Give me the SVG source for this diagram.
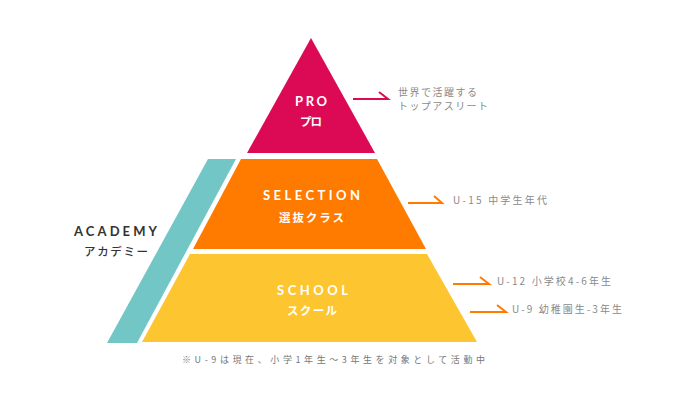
<svg xmlns="http://www.w3.org/2000/svg" width="692" height="401" viewBox="0 0 692 401">
<style>
.t{font-family:"Lato","Noto Sans CJK JP",sans-serif;font-weight:700;fill:#fff;font-size:13px}
.j{font-family:"Noto Sans CJK JP",sans-serif;font-weight:700;fill:#fff;font-size:11.5px}
.d{fill:#333}
.g{font-family:"Noto Sans CJK JP",sans-serif;font-size:10px;fill:#8a8a8a}
.a{fill:none;stroke-width:2;stroke-linecap:butt;stroke-linejoin:miter}
</style>
<rect width="692" height="401" fill="#fff"/>
<g id="academy">
<polygon points="208,159 236,159 137,343 107,343" fill="#73c6c6"/>
<text class="t d" x="74" y="236" textLength="83" lengthAdjust="spacing">ACADEMY</text>
<text class="j d" x="84" y="256" textLength="64" lengthAdjust="spacing" style="font-weight:500">アカデミー</text>
</g>
<g id="pro">
<polygon points="311,38 375,153 247,153" fill="#dc0a55"/>
<text class="t" x="295" y="106" textLength="32" lengthAdjust="spacing">PRO</text>
<text class="j" x="300" y="126" textLength="22" lengthAdjust="spacing">プロ</text>
</g>
<g id="selection">
<polygon points="241,159 377,159 426,249 193,249" fill="#ff7b00"/>
<text class="t" x="263" y="200" textLength="97" lengthAdjust="spacing">SELECTION</text>
<text class="j" x="279" y="222" textLength="65" lengthAdjust="spacing">選抜クラス</text>
</g>
<g id="school">
<polygon points="190,254 427,254 477,342 142,342" fill="#fdc631"/>
<text class="t" x="277" y="295" textLength="71" lengthAdjust="spacing">SCHOOL</text>
<text class="j" x="287" y="315" textLength="50" lengthAdjust="spacing">スクール</text>
</g>
<g id="connectors">
<polyline class="a" points="353,99 388,99 379,92" stroke="#dc0a55"/>
<polyline class="a" points="408,203 442,203 434,196" stroke="#ff7b00"/>
<polyline class="a" points="453,284 489,284 480,277" stroke="#ff7b00"/>
<polyline class="a" points="470,312 506,312 497,305" stroke="#ff7b00"/>
</g>
<g id="labels">
<text class="g" x="398" y="96" textLength="79" lengthAdjust="spacing">世界で活躍する</text>
<text class="g" x="398" y="110" textLength="90" lengthAdjust="spacing">トップアスリート</text>
<text class="g" x="453" y="204" textLength="94" lengthAdjust="spacing">U-15 中学生年代</text>
<text class="g" x="497" y="285" textLength="114" lengthAdjust="spacing">U-12 小学校4-6年生</text>
<text class="g" x="512" y="313" textLength="110" lengthAdjust="spacing">U-9 幼稚園生-3年生</text>
<text class="g" x="182" y="363" textLength="303" lengthAdjust="spacing" style="font-size:9px;fill:#777">※U-9は現在、小学1年生〜3年生を対象として活動中</text>
</g>
</svg>
